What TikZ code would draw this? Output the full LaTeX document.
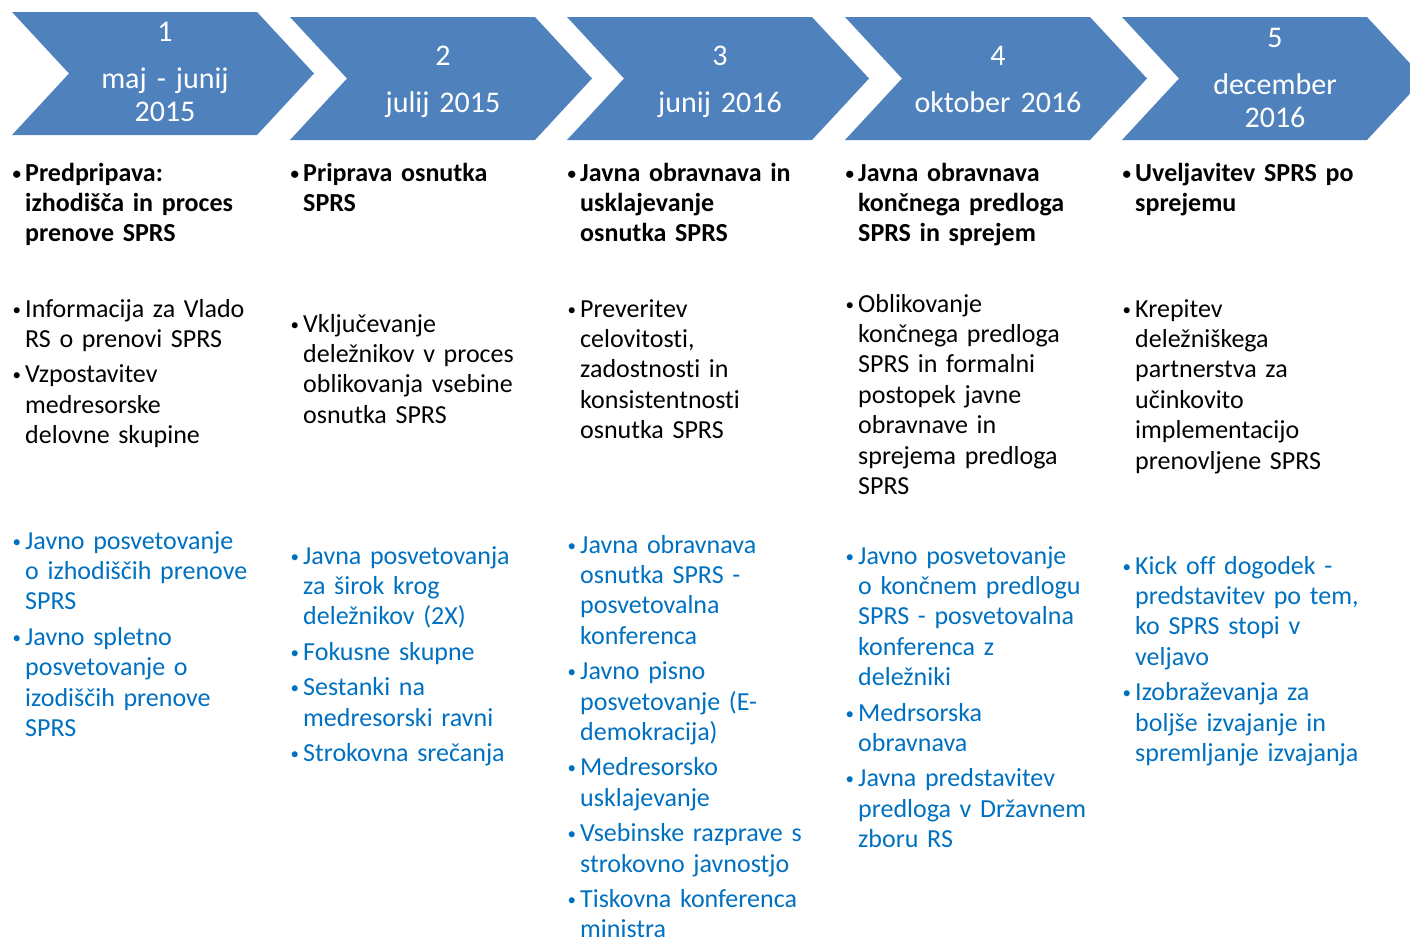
\documentclass[tikz,border=0pt]{standalone}
\usepackage{fontspec}
\setmainfont{Carlito}[Ligatures={NoCommon}]
\definecolor{chevblue}{HTML}{4F81BD}
\definecolor{itemblue}{HTML}{0070C0}
\setlength\lineskiplimit{-60pt}
\newcommand\bitem[1]{\hangindent=13pt\hangafter=1\noindent\makebox[13pt][l]{\hspace{0.5pt}\raisebox{2pt}{\fontsize{17}{17}\selectfont\textbullet}}#1\par}
\newcommand\igap{\vspace{5pt}}
\newcommand\chev[2]{\fill[chevblue] (#1,#2) -- ++(245,0) -- ++(57,61.5) -- ++(-57,61.5) -- ++(-245,0) -- ++(57,-61.5) -- cycle;}
\tikzset{
  chevtext/.style={anchor=base, inner sep=0pt, text width=250pt, align=center, text=white,
    font=\fontsize{30}{33}\selectfont},
  body/.style={anchor=base west, inner sep=0pt, text width=262pt,
    font=\fontsize{26}{30.4}\selectfont},
  boldtxt/.style={body, font=\fontsize{26}{30.4}\selectfont\bfseries},
  bluetxt/.style={body, text=itemblue}
}
\begin{document}
\begin{tikzpicture}[x=1pt,y=-1pt]
\useasboundingbox (0,0) rectangle (1410,937);
\clip (0,0) rectangle (1410,937);
% chevrons
\chev{12}{12}
\chev{290}{17}
\chev{567}{17}
\chev{845}{17}
\chev{1122}{17}
% chevron labels
\node[chevtext] (c1) at (165,41) {1\\[14pt]maj - junij\\2015};
\node[chevtext] (c2) at (443,65) {2\\[14pt]julij 2015};
\node[chevtext] (c3) at (720,65) {3\\[14pt]junij 2016};
\node[chevtext] (c4) at (998,65) {4\\[14pt]oktober 2016};
\node[chevtext] (c5) at (1275,47) {5\\[14pt]december\\2016};
% bold row
\node[boldtxt] (b1) at (12,181) {\bitem{Predpripava:\newline izhodišča in proces\newline prenove SPRS}};
\node[boldtxt] (b2) at (290,181) {\bitem{Priprava osnutka\newline SPRS}};
\node[boldtxt] (b3) at (567,181) {\bitem{Javna obravnava in\newline usklajevanje\newline osnutka SPRS}};
\node[boldtxt] (b4) at (845,181) {\bitem{Javna obravnava\newline končnega predloga\newline SPRS in sprejem}};
\node[boldtxt] (b5) at (1122,181) {\bitem{Uveljavitev SPRS po\newline sprejemu}};
% normal row
\node[body] (n1) at (12,317) {\bitem{Informacija za Vlado\newline RS o prenovi SPRS}\igap
  \bitem{Vzpostavitev\newline medresorske\newline delovne skupine}};
\node[body] (n2) at (290,332) {\bitem{Vključevanje\newline deležnikov v proces\newline oblikovanja vsebine\newline osnutka SPRS}};
\node[body] (n3) at (567,317) {\bitem{Preveritev\newline celovitosti,\newline zadostnosti in\newline konsistentnosti\newline osnutka SPRS}};
\node[body] (n4) at (845,312) {\bitem{Oblikovanje\newline končnega predloga\newline SPRS in formalni\newline postopek javne\newline obravnave in\newline sprejema predloga\newline SPRS}};
\node[body] (n5) at (1122,317) {\bitem{Krepitev\newline deležniškega\newline partnerstva za\newline učinkovito\newline implementacijo\newline prenovljene SPRS}};
% blue row
\node[bluetxt] (u1) at (12,549) {\bitem{Javno posvetovanje\newline o izhodiščih prenove\newline SPRS}\igap
  \bitem{Javno spletno\newline posvetovanje o\newline izodiščih prenove\newline SPRS}};
\node[bluetxt] (u2) at (290,564) {\bitem{Javna posvetovanja\newline za širok krog\newline deležnikov (2X)}\igap
  \bitem{Fokusne skupne}\igap
  \bitem{Sestanki na\newline medresorski ravni}\igap
  \bitem{Strokovna srečanja}};
\node[bluetxt] (u3) at (567,553) {\bitem{Javna obravnava\newline osnutka SPRS -\newline posvetovalna\newline konferenca}\igap
  \bitem{Javno pisno\newline posvetovanje (E-\newline demokracija)}\igap
  \bitem{Medresorsko\newline usklajevanje}\igap
  \bitem{Vsebinske razprave s\newline strokovno javnostjo}\igap
  \bitem{Tiskovna konferenca\newline ministra}};
\node[bluetxt] (u4) at (845,564) {\bitem{Javno posvetovanje\newline o končnem predlogu\newline SPRS - posvetovalna\newline konferenca z\newline deležniki}\igap
  \bitem{Medrsorska\newline obravnava}\igap
  \bitem{Javna predstavitev\newline predloga v Državnem\newline zboru RS}};
\node[bluetxt] (u5) at (1122,574) {\bitem{Kick off dogodek -\newline predstavitev po tem,\newline ko SPRS stopi v\newline veljavo}\igap
  \bitem{Izobraževanja za\newline boljše izvajanje in\newline spremljanje izvajanja}};
\end{tikzpicture}
\end{document}
